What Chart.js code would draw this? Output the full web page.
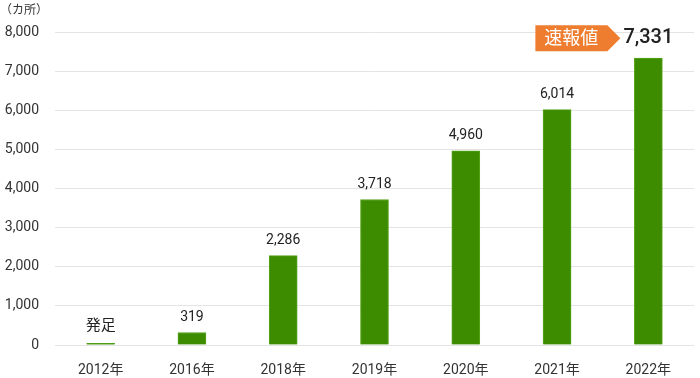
<!DOCTYPE html>
<html>
<head>
<meta charset="utf-8">
<script src="https://cdn.jsdelivr.net/npm/chart.js@4"></script>
<style>
  html, body { margin: 0; padding: 0; background: #fff; }
  #wrap { width: 700px; height: 378px; position: relative; }
</style>
</head>
<body>
<div id="wrap"><canvas id="barChart"></canvas></div>
<script>
    // 年ごとの箇所数
    var years = ["2012年", "2016年", "2018年", "2019年", "2020年", "2021年", "2022年"];
    var counts = [40, 319, 2286, 3718, 4960, 6014, 7331];
    var valueLabels = ["発足", "319", "2,286", "3,718", "4,960", "6,014", "7,331"];
    var yTicks = [0, 1000, 2000, 3000, 4000, 5000, 6000, 7000, 8000];
    var unitLabel = "（カ所）";
    var badgeText = "速報値";

    var fontFamily = 'Roboto, "Noto Sans CJK JP", sans-serif';

    var labelPlugin = {
        id: 'barLabels',
        afterDatasetsDraw: function(chart) {
            var ctx = chart.ctx;
            var meta = chart.getDatasetMeta(0);
            ctx.save();
            ctx.textAlign = 'center';
            ctx.textBaseline = 'middle';
            meta.data.forEach(function(bar, i) {
                var last = i === meta.data.length - 1;
                ctx.fillStyle = '#222';
                if (last) {
                    ctx.font = '500 20px ' + fontFamily;
                    ctx.fillText(valueLabels[i], bar.x, bar.y - 20);
                } else if (i === 0) {
                    ctx.font = '15px ' + fontFamily;
                    ctx.fillText(valueLabels[i], bar.x, bar.y - 17);
                } else {
                    ctx.font = '14px ' + fontFamily;
                    ctx.fillText(valueLabels[i], bar.x, bar.y - 15);
                }
            });

            // 速報値 badge
            var lastBar = meta.data[meta.data.length - 1];
            var cy = lastBar.y - 20;
            var right = lastBar.x - 28;
            var left = right - 85;
            ctx.fillStyle = '#ee7d2f';
            ctx.beginPath();
            ctx.moveTo(left, cy - 13);
            ctx.lineTo(right - 13, cy - 13);
            ctx.lineTo(right, cy);
            ctx.lineTo(right - 13, cy + 13);
            ctx.lineTo(left, cy + 13);
            ctx.closePath();
            ctx.fill();
            ctx.fillStyle = '#fff';
            ctx.font = '18px ' + fontFamily;
            ctx.fillText(badgeText, left + 36, cy + 1);

            // unit
            ctx.textAlign = 'left';
            ctx.font = '12px ' + fontFamily;
            ctx.fillStyle = '#333';
            ctx.fillText(unitLabel, 0, 11);
            ctx.restore();
        }
    };

    var ctxBar = document.getElementById('barChart').getContext('2d');
    new Chart(ctxBar, {
        type: 'bar',
        data: {
            labels: years,
            datasets: [
                {
                    data: counts,
                    backgroundColor: '#3d8c00',
                    borderColor: '#55a41a',
                    borderWidth: 1,
                    barThickness: 28
                }
            ]
        },
        options: {
            responsive: true,
            maintainAspectRatio: false,
            animation: false,
            layout: { padding: { top: 32, right: 6, left: 0, bottom: 0 } },
            plugins: {
                legend: { display: false },
                tooltip: { enabled: false }
            },
            scales: {
                x: {
                    grid: { display: false },
                    border: { display: false },
                    ticks: { color: '#333', font: { size: 14, family: fontFamily }, padding: 9 },
                    afterFit: function(scale) { scale.height = 33; }
                },
                y: {
                    min: 0,
                    max: 8000,
                    afterBuildTicks: function(scale) {
                        scale.ticks = yTicks.map(function(v) { return { value: v }; });
                    },
                    grid: { color: '#e4e4e4', drawTicks: false },
                    border: { display: false },
                    ticks: {
                        color: '#333',
                        padding: 16,
                        font: { size: 14, family: fontFamily },
                        callback: function(v) { return v.toLocaleString('en-US'); }
                    },
                    afterFit: function(scale) { scale.width = 55; }
                }
            }
        },
        plugins: [labelPlugin]
    });
</script>
</body>
</html>
